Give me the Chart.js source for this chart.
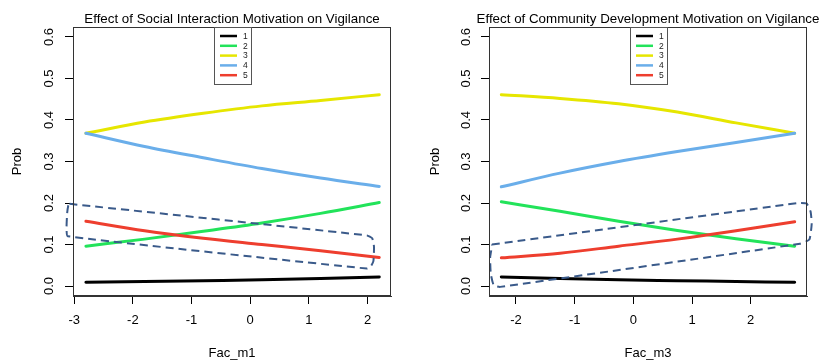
<!DOCTYPE html>
<html>
<head>
<meta charset="utf-8">
<script src="https://cdn.jsdelivr.net/npm/chart.js@4.4.1/dist/chart.umd.min.js"></script>
<style>
  body { margin: 0; background: #fff; }
  #wrap { position: relative; width: 819px; height: 362px; overflow: hidden; }
  canvas { position: absolute; top: 0; }
</style>
</head>
<body>
<div id="wrap">
  <canvas id="chart-m1" width="410" height="362" style="left:0"></canvas>
  <canvas id="chart-m3" width="409" height="362" style="left:410px"></canvas>
</div>
<script>
// legend labels (response levels) and their colours
const levels = ['1', '2', '3', '4', '5'];
const levelColors = ['#000000', '#22e35a', '#e6e600', '#6aaeea', '#ee3e2e'];
const probTicks = [0, 0.1, 0.2, 0.3, 0.4, 0.5, 0.6];

// left panel: Fac_m1
const m1X = [-2.8, -1.8, -0.8, 0.2, 1.2, 2.2];
const m1Level1 = [0.009, 0.011, 0.013, 0.015, 0.018, 0.022];
const m1Level2 = [0.096, 0.113, 0.132, 0.152, 0.175, 0.201];
const m1Level3 = [0.368, 0.395, 0.416, 0.434, 0.447, 0.461];
const m1Level4 = [0.368, 0.336, 0.309, 0.283, 0.260, 0.240];
const m1Level5 = [0.156, 0.133, 0.115, 0.100, 0.085, 0.069];
const m1Ticks = [-3, -2, -1, 0, 1, 2];
// hand-drawn dashed outline
const m1OutlineX = [-3.08, 1.99, 2.08, 2.11, 2.10, 2.05, 1.99, -3.11, -3.13, -3.12, -3.10, -3.08];
const m1OutlineY = [0.198, 0.122, 0.115, 0.095, 0.060, 0.046, 0.042, 0.120, 0.140, 0.175, 0.194, 0.198];

// right panel: Fac_m3
const m3X = [-2.25, -1.25, -0.25, 0.75, 1.75, 2.75];
const m3Level1 = [0.022, 0.018, 0.015, 0.013, 0.011, 0.009];
const m3Level2 = [0.203, 0.180, 0.156, 0.134, 0.114, 0.096];
const m3Level3 = [0.461, 0.452, 0.439, 0.419, 0.393, 0.368];
const m3Level4 = [0.239, 0.272, 0.300, 0.324, 0.346, 0.368];
const m3Level5 = [0.068, 0.079, 0.096, 0.113, 0.133, 0.155];
const m3Ticks = [-2, -1, 0, 1, 2];
const m3OutlineX = [-2.41, 2.81, 2.95, 3.02, 3.04, 3.00, 2.84, -2.27, -2.38, -2.43, -2.44, -2.41, -2.41];
const m3OutlineY = [0.100, 0.200, 0.199, 0.180, 0.150, 0.112, 0.102, -0.002, 0.002, 0.030, 0.070, 0.095, 0.100];

Chart.defaults.font.family = '"Liberation Sans", Arial, sans-serif';
Chart.defaults.color = '#000';

function toPoints(xs, ys) {
    return ys.map((y, i) => ({ x: xs[i], y: y }));
}

// box, title and legend the way R draws them
const panelDecor = {
    id: 'panelDecor',
    afterDraw(chart, args, opts) {
        const ctx = chart.ctx;
        const area = chart.chartArea;
        const cx = (area.left + area.right) / 2;
        ctx.save();

        ctx.strokeStyle = '#333';
        ctx.lineWidth = 1;
        ctx.strokeRect(area.left + 0.5, area.top + 0.5, area.right - area.left - 1, area.bottom - area.top - 1);

        ctx.fillStyle = '#000';
        ctx.font = '13.35px "Liberation Sans", Arial, sans-serif';
        ctx.textAlign = 'center';
        ctx.textBaseline = 'middle';
        ctx.fillText(opts.title, cx, 19);

        // legend
        const boxLeft = cx - 18, boxRight = cx + 19, boxBottom = 84;
        ctx.strokeStyle = '#555';
        ctx.strokeRect(Math.round(boxLeft) + 0.5, area.top + 0.5, boxRight - boxLeft, boxBottom - area.top);
        ctx.font = '8.5px "Liberation Sans", Arial, sans-serif';
        ctx.textAlign = 'left';
        levels.forEach((lab, i) => {
            const y = 36 + i * 9.8;
            ctx.strokeStyle = levelColors[i];
            ctx.lineWidth = 2.5;
            ctx.beginPath();
            ctx.moveTo(cx - 12, y);
            ctx.lineTo(cx + 5, y);
            ctx.stroke();
            ctx.fillStyle = '#222';
            ctx.fillText(lab, cx + 11, y + 0.5);
        });
        ctx.restore();
    }
};

function buildPanel(canvasId, panel) {
    const datasets = panel.series.map((vals, i) => ({
        label: levels[i],
        data: toPoints(panel.xs, vals),
        borderColor: levelColors[i],
        borderWidth: 3,
        borderCapStyle: 'round',
        pointRadius: 0,
        showLine: true,
        cubicInterpolationMode: 'monotone',
        order: levels.length - i + 1
    }));

    datasets.push({
        label: 'outline',
        data: toPoints(panel.outlineX, panel.outlineY),
        borderColor: '#3a5a8a',
        borderWidth: 2,
        borderDash: [8, 5],
        pointRadius: 0,
        showLine: true,
        tension: 0.15,
        clip: false,
        order: 0
    });

    new Chart(document.getElementById(canvasId), {
        type: 'scatter',
        data: { datasets: datasets },
        plugins: [panelDecor],
        options: {
            responsive: false,
            animation: false,
            devicePixelRatio: 1,
            layout: { padding: { top: 27, right: panel.padRight, left: 0, bottom: 0 } },
            plugins: {
                legend: { display: false },
                tooltip: { enabled: false },
                panelDecor: { title: panel.title }
            },
            scales: {
                x: {
                    type: 'linear',
                    min: panel.xMin,
                    max: panel.xMax,
                    afterBuildTicks: s => { s.ticks = panel.xTicks.map(v => ({ value: v })); },
                    afterFit: s => { s.height = 66; },
                    ticks: {
                        callback: v => String(v),
                        font: { size: 13 },
                        padding: 9,
                        maxRotation: 0,
                        autoSkip: false
                    },
                    grid: { drawOnChartArea: false, drawTicks: true, tickLength: 8, color: '#000' },
                    border: { display: true, color: '#333' },
                    title: { display: true, text: panel.xTitle, font: { size: 13 }, padding: { top: 0, bottom: 1 } }
                },
                y: {
                    type: 'linear',
                    min: -0.024,
                    max: 0.624,
                    afterBuildTicks: s => { s.ticks = probTicks.map(v => ({ value: v })); },
                    afterFit: s => { s.width = panel.yWidth; },
                    ticks: {
                        callback: v => v.toFixed(1),
                        font: { size: 13 },
                        padding: panel.yPad,
                        minRotation: 90,
                        maxRotation: 90,
                        crossAlign: 'center'
                    },
                    grid: { drawOnChartArea: false, drawTicks: true, tickLength: 8, color: '#000' },
                    border: { display: true, color: '#333' },
                    title: { display: true, text: 'Prob', font: { size: 13 }, padding: { top: panel.yTitlePad, bottom: 0 } }
                }
            }
        }
    });
}

document.addEventListener('DOMContentLoaded', function() {
    buildPanel('chart-m1', {
        title: 'Effect of Social Interaction Motivation on Vigilance',
        xTitle: 'Fac_m1',
        xs: m1X,
        series: [m1Level1, m1Level2, m1Level3, m1Level4, m1Level5],
        outlineX: m1OutlineX,
        outlineY: m1OutlineY,
        xTicks: m1Ticks,
        xMin: -3.02,
        xMax: 2.40,
        yWidth: 73,
        yPad: 7,
        yTitlePad: 10,
        padRight: 19
    });

    buildPanel('chart-m3', {
        title: 'Effect of Community Development Motivation on Vigilance',
        xTitle: 'Fac_m3',
        xs: m3X,
        series: [m3Level1, m3Level2, m3Level3, m3Level4, m3Level5],
        outlineX: m3OutlineX,
        outlineY: m3OutlineY,
        xTicks: m3Ticks,
        xMin: -2.46,
        xMax: 2.96,
        yWidth: 79,
        yPad: 6,
        yTitlePad: 18,
        padRight: 12
    });
});
</script>
</body>
</html>
